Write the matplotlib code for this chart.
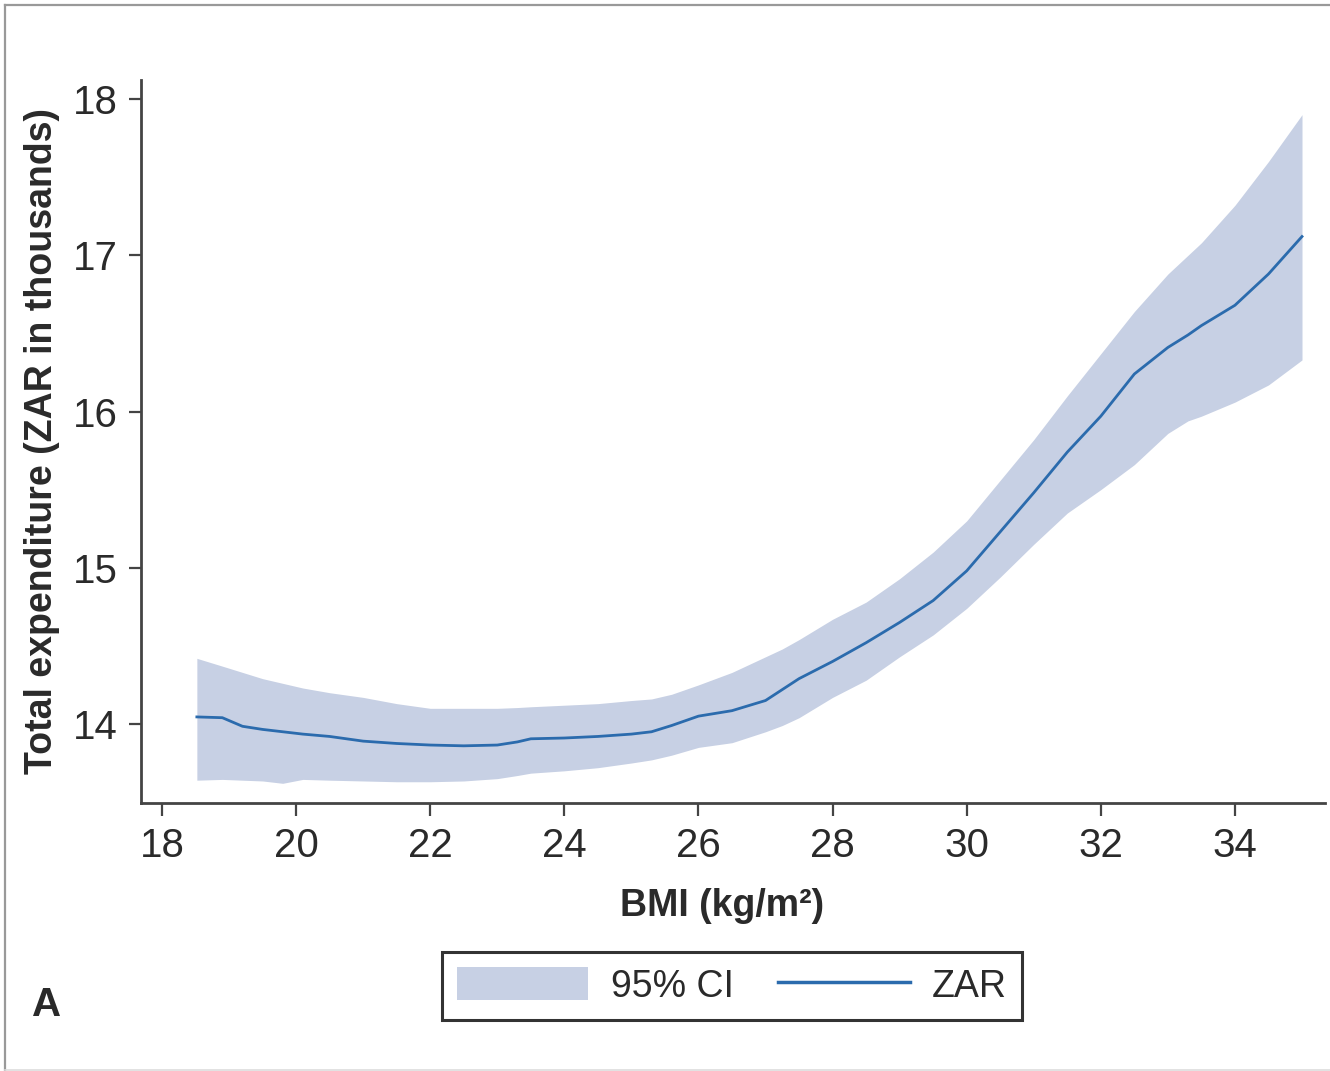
import matplotlib
matplotlib.use("Agg")
import matplotlib.pyplot as plt
from matplotlib.lines import Line2D
from matplotlib.patches import Patch

# ---- data ----
bmi = [18.52, 18.9, 19.2, 19.5, 19.8, 20.1, 20.5, 21.0, 21.5, 22.0,
       22.5, 23.0, 23.3, 23.5, 24.0, 24.5, 25.0, 25.3, 25.6, 26.0,
       26.5, 27.0, 27.25, 27.5, 28.0, 28.5, 29.0, 29.5, 30.0, 30.5,
       31.0, 31.5, 32.0, 32.5, 33.0, 33.3, 33.5, 34.0, 34.5, 35.0]
zar = [14.045, 14.04, 13.985, 13.965, 13.95, 13.935, 13.92, 13.89, 13.875, 13.865,
       13.86, 13.865, 13.885, 13.905, 13.91, 13.92, 13.935, 13.95, 13.99, 14.05,
       14.085, 14.15, 14.22, 14.29, 14.40, 14.52, 14.65, 14.79, 14.98, 15.23,
       15.48, 15.74, 15.97, 16.24, 16.41, 16.49, 16.55, 16.68, 16.88, 17.12]
ci_upper = [14.42, 14.37, 14.33, 14.29, 14.26, 14.23, 14.20, 14.17, 14.13, 14.10,
            14.10, 14.10, 14.105, 14.11, 14.12, 14.13, 14.15, 14.16, 14.19, 14.25,
            14.33, 14.43, 14.48, 14.54, 14.67, 14.78, 14.93, 15.10, 15.30, 15.56,
            15.82, 16.10, 16.37, 16.64, 16.88, 17.00, 17.08, 17.32, 17.60, 17.90]
ci_lower = [13.64, 13.645, 13.64, 13.635, 13.62, 13.645, 13.64, 13.635, 13.63, 13.63,
            13.635, 13.65, 13.67, 13.685, 13.70, 13.72, 13.75, 13.77, 13.80, 13.85,
            13.88, 13.95, 13.99, 14.04, 14.17, 14.28, 14.43, 14.57, 14.74, 14.94,
            15.15, 15.35, 15.50, 15.66, 15.86, 15.94, 15.97, 16.06, 16.17, 16.33]
x_ticks = [18, 20, 22, 24, 26, 28, 30, 32, 34]
y_ticks = [14, 15, 16, 17, 18]
legend_labels = ["95% CI", "ZAR"]

FILL = "#c7d0e4"
LINE = "#2b6bad"
TXT = "#2a2a2a"
AX = "#444444"

plt.rcParams['font.family'] = ['Liberation Sans', 'DejaVu Sans']

fig = plt.figure(figsize=(13.3, 10.71), dpi=100)
ax = fig.add_axes([141/1330, 1-803/1071, (1325-141)/1330, (803-80)/1071])

ax.fill_between(bmi, ci_lower, ci_upper, color=FILL, linewidth=0)
ax.plot(bmi, zar, color=LINE, linewidth=2.0)

ax.set_xlim(17.687, 35.343)
ax.set_ylim(13.494, 18.122)
ax.set_xticks(x_ticks)
ax.set_yticks(y_ticks)
for s in ['top', 'right']:
    ax.spines[s].set_visible(False)
for s in ['left', 'bottom']:
    ax.spines[s].set_color(AX)
    ax.spines[s].set_linewidth(2.0)
ax.tick_params(axis='both', direction='out', length=9, width=1.6, color=AX,
               labelsize=29, labelcolor=TXT, pad=8)

ax.set_xlabel("BMI (kg/m²)", fontsize=27, fontweight='bold', color=TXT)
ax.set_ylabel("Total expenditure (ZAR in thousands)", fontsize=27, fontweight='bold',
              color=TXT)
ax.xaxis.set_label_coords((722 - 141) / 1184, (803 - 888) / 723)
ax.yaxis.set_label_coords((60 - 141) / 1184, 0.5)

handles = [Patch(facecolor=FILL, edgecolor='none'),
           Line2D([0], [0], color=LINE, linewidth=2.5)]
leg = fig.legend(handles, legend_labels, loc='center', bbox_to_anchor=(732/1330, 1-986/1071),
                 ncol=2, frameon=True, fancybox=False, edgecolor='black', fontsize=27,
                 handlelength=3.5, handleheight=0.95, handletextpad=0.6, columnspacing=1.2,
                 borderpad=0.4, borderaxespad=0, labelcolor=TXT)
leg.get_frame().set_linewidth(2.2)

fig.text(47/1330, 1-1005/1071, "A", fontsize=29, fontweight='bold', color=TXT,
         ha='center', va='center')

# outer panel border
fig.add_artist(Line2D([5/1330, 5/1330], [1/1071, 1-5/1071], transform=fig.transFigure,
                      color='#999999', linewidth=1.6))
fig.add_artist(Line2D([5/1330, 1.0], [1-5/1071, 1-5/1071], transform=fig.transFigure,
                      color='#999999', linewidth=1.6))
fig.add_artist(Line2D([5/1330, 1.0], [1.5/1071, 1.5/1071], transform=fig.transFigure,
                      color='#dddddd', linewidth=1.2))

fig.savefig("out.png", dpi=100, facecolor='white')
